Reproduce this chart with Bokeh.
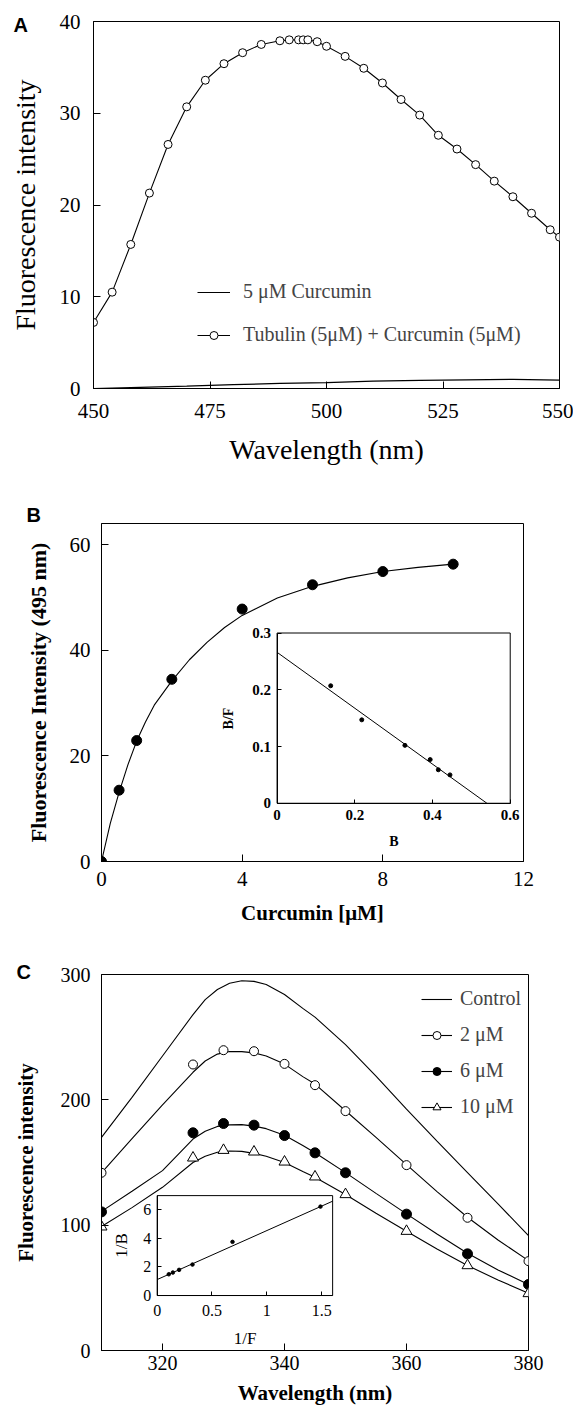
from bokeh.plotting import figure
from bokeh.models import Range1d, LinearAxis, FixedTicker, Legend, LegendItem
from bokeh.embed import file_html
from bokeh.resources import INLINE

SERIF = "Liberation Serif"
SANS = "Liberation Sans"

# ---------------- Panel A data ----------------
a_wl = [450, 454, 458, 462, 466, 470, 474, 478, 482, 486, 490, 492, 494, 495, 496,
        498, 500, 504, 508, 512, 516, 520, 524, 528, 532, 536, 540, 544, 548, 550]
a_tub = [7.2, 10.5, 15.7, 21.3, 26.6, 30.7, 33.6, 35.4, 36.6, 37.5, 37.9, 38.0, 38.0, 38.0, 38.0,
         37.8, 37.3, 36.2, 34.9, 33.3, 31.5, 29.8, 27.6, 26.1, 24.4, 22.6, 20.9, 19.1, 17.3, 16.5]
a_cur_wl = [450, 460, 470, 480, 490, 500, 510, 520, 530, 540, 550]
a_cur = [0.0, 0.12, 0.25, 0.42, 0.55, 0.65, 0.8, 0.88, 0.95, 1.0, 0.92]
a_xticks = [450, 475, 500, 525, 550]
a_yticks = [0, 10, 20, 30, 40]

# ---------------- Panel B data ----------------
b_conc = [0, 0.5, 1, 2, 4, 6, 8, 10]
b_int = [0, 13.5, 22.9, 34.5, 47.8, 52.4, 54.9, 56.3]
b_fit_x = [0, 0.25, 0.5, 0.75, 1, 1.25, 1.5, 2, 2.5, 3, 3.5, 4, 5, 6, 7, 8, 9, 10]
b_fit_y = [0, 7.2, 13.1, 18.3, 22.8, 26.4, 29.6, 34.2, 38.2, 41.5, 44.3, 46.6, 49.9, 52.1,
           53.7, 54.9, 55.7, 56.3]
b_xticks = [0, 4, 8, 12]
b_yticks = [0, 20, 40, 60]
# inset (Scatchard)
bi_B = [0.138, 0.218, 0.329, 0.394, 0.415, 0.445]
bi_BF = [0.207, 0.147, 0.102, 0.077, 0.059, 0.050]
bi_line_x = [0, 0.54]
bi_line_y = [0.266, 0.0]
bi_xticks = [0, 0.2, 0.4, 0.6]
bi_yticks = [0, 0.1, 0.2, 0.3]

# ---------------- Panel C data ----------------
c_wl = [310, 325, 330, 335, 340, 345, 350, 360, 370, 380]
c_2 = [141.8, 228.2, 239.6, 238.8, 228.7, 211.7, 191.0, 147.9, 105.9, 71.3]
c_6 = [110.6, 173.7, 181.1, 179.8, 171.5, 157.7, 141.8, 108.8, 77.1, 52.7]
c_10 = [98.7, 153.7, 159.8, 158.5, 150.5, 138.6, 124.5, 95.2, 67.8, 45.5]
c_fit_wl = [310, 315, 320, 325, 327, 329, 331, 333, 335, 337, 340, 343, 345, 350, 355, 360,
            365, 370, 375, 380]
c_ctrl_fit = [170, 202, 235, 268, 280, 288, 293, 295, 294.5, 292, 284, 273, 266, 244, 219,
              192.5, 167, 142, 117, 91.7]
c_2_fit = [141.8, 169, 196, 222, 231, 236.5, 238.5, 238.5, 237.5, 235, 228.5, 218.5, 212.6,
           191.3, 170, 148.3, 126.8, 106.3, 88.2, 71.7]
c_6_fit = [111, 127, 143.5, 168.7, 175, 178.8, 180, 180.2, 179, 177, 171.7, 163.5, 157.8,
           141.9, 125.4, 109, 93, 77.6, 64.3, 52.6]
c_10_fit = [99, 114, 130.2, 150, 155, 158.2, 159.2, 158.9, 157.3, 155, 150, 142.8, 138.2,
            124.4, 109.5, 95.1, 81, 67.8, 56.3, 45.7]
c_xticks = [320, 340, 360, 380]
c_yticks = [0, 100, 200, 300]
# inset (double reciprocal)
ci_x = [0.106, 0.143, 0.200, 0.322, 0.687, 1.489]
ci_y = [1.49, 1.61, 1.80, 2.17, 3.76, 6.23]
ci_line_x = [0, 1.6]
ci_line_y = [1.12, 6.61]
ci_xticks = [0, 0.5, 1, 1.5]
ci_yticks = [0, 2, 4, 6]


def make_fig(w, h, xr, yr, bl, br, bt, bb):
    p = figure(width=w, height=h, x_range=Range1d(*xr), y_range=Range1d(*yr),
               output_backend="svg", toolbar_location=None,
               min_border_left=bl, min_border_right=br,
               min_border_top=bt, min_border_bottom=bb)
    p.grid.visible = False
    p.outline_line_color = "black"
    p.outline_line_width = 1
    p.background_fill_color = "white"
    p.border_fill_color = "white"
    return p


def style_axis(ax, ticks, size, label_size, label_style, standoff, label_standoff,
               tick_in=7, tick_style="normal", overrides=None):
    ax.ticker = FixedTicker(ticks=ticks)
    ax.major_tick_in = tick_in
    ax.major_tick_out = 0
    ax.minor_tick_in = 0
    ax.minor_tick_out = 0
    ax.major_label_text_font = SERIF
    ax.major_label_text_font_size = f"{size}px"
    ax.major_label_text_font_style = tick_style
    ax.major_label_standoff = standoff
    ax.axis_label_text_font = SERIF
    ax.axis_label_text_font_size = f"{label_size}px"
    ax.axis_label_text_font_style = label_style
    ax.axis_label_standoff = label_standoff
    ax.axis_line_color = "black"
    ax.major_tick_line_color = "black"
    ax.major_label_text_color = "black"
    ax.axis_label_text_color = "black"
    if overrides:
        ax.major_label_overrides = overrides


def panel_letter(p, text, dx, standoff):
    t = p.title
    t.text = text
    t.align = "left"
    t.offset = dx
    t.standoff = standoff
    t.vertical_align = "bottom"
    t.text_font = SANS
    t.text_font_style = "bold"
    t.text_font_size = "20px"
    t.text_color = "black"


def add_inset(p, frame_px, box_px, xr, yr, name):
    fl, fr, ft, fb = frame_px
    il, ir, it, ib = box_px
    fx0 = (il - fl) / (fr - fl)
    fx1 = (ir - fl) / (fr - fl)
    fy0 = (fb - ib) / (fb - ft)
    fy1 = (fb - it) / (fb - ft)
    sx = (xr[1] - xr[0]) / (fx1 - fx0)
    sy = (yr[1] - yr[0]) / (fy1 - fy0)
    x0 = xr[0] - fx0 * sx
    y0 = yr[0] - fy0 * sy
    p.extra_x_ranges = {name + "x": Range1d(x0, x0 + sx)}
    p.extra_y_ranges = {name + "y": Range1d(y0, y0 + sy)}
    p.quad(left=xr[0], right=xr[1], bottom=yr[0], top=yr[1],
           x_range_name=name + "x", y_range_name=name + "y",
           fill_color="white", line_color="black", line_width=1)
    return name + "x", name + "y"


# ======================= Panel A =======================
pa = make_fig(573, 470, (450, 550), (0, 40), 93, 14, 21, 82)
pa.xaxis.axis_label = "Wavelength (nm)"
pa.yaxis.axis_label = "Fluorescence intensity"
style_axis(pa.xaxis[0], a_xticks, 21, 28, "normal", 15, 13)
style_axis(pa.yaxis[0], a_yticks, 21, 28, "normal", 13, 16)

ra_cur = pa.line(a_cur_wl, a_cur, line_color="black", line_width=1.2)
ra_tl = pa.line(a_wl, a_tub, line_color="black", line_width=1.1)
ra_tp = pa.scatter(a_wl, a_tub, marker="circle", size=8, fill_color="white",
                   line_color="black", line_width=1)
leg_a = Legend(items=[LegendItem(label="5 μM Curcumin", renderers=[ra_cur]),
                      LegendItem(label="Tubulin (5μM) + Curcumin (5μM)", renderers=[ra_tl, ra_tp])],
               location=(104, 42), padding=0, margin=0, spacing=20,
               glyph_width=33, glyph_height=20, label_height=20, label_standoff=13,
               label_text_font=SERIF, label_text_font_size="20px",
               border_line_color=None, background_fill_alpha=0)
pa.add_layout(leg_a)
panel_letter(pa, "A", -80, -28)

# ======================= Panel B =======================
pb = make_fig(573, 460, (0, 12), (0, 64), 101, 50, 53, 69)
pb.xaxis.axis_label = "Curcumin [μM]"
pb.yaxis.axis_label = "Fluorescence Intensity (495 nm)"
style_axis(pb.xaxis[0], b_xticks, 21, 21, "bold", 10, 12)
style_axis(pb.yaxis[0], b_yticks, 21, 22, "bold", 11, 16)

pb.line(b_fit_x, b_fit_y, line_color="black", line_width=1.1)
pb.scatter(b_conc, b_int, marker="circle", size=10, fill_color="black", line_color="black")

bxn, byn = add_inset(pb, (101, 523.3, 522.7, 861), (276.7, 510, 632.3, 802.7),
                     (0, 0.6), (0, 0.3), "bi")
pb.line(bi_line_x, bi_line_y, x_range_name=bxn, y_range_name=byn, line_color="black", line_width=1)
pb.scatter(bi_B, bi_BF, x_range_name=bxn, y_range_name=byn, marker="circle", size=4,
           fill_color="black", line_color="black")
bix = LinearAxis(x_range_name=bxn, y_range_name=byn, fixed_location=0, bounds=(0, 0.6),
                 axis_label="B")
style_axis(bix, bi_xticks, 15, 14, "bold", 7, 10, tick_in=4, tick_style="bold",
           overrides={0: "0"})
pb.add_layout(bix, "below")
biy = LinearAxis(x_range_name=bxn, y_range_name=byn, fixed_location=0, bounds=(0, 0.3),
                 axis_label="B/F")
style_axis(biy, bi_yticks, 15, 14, "bold", 6, 14, tick_in=4, tick_style="bold",
           overrides={0: "0"})
pb.add_layout(biy, "left")
panel_letter(pb, "B", -75, -5)

# ======================= Panel C =======================
pc = make_fig(573, 477, (310, 380), (0, 300), 101, 45, 44, 57)
pc.xaxis.axis_label = "Wavelength (nm)"
pc.yaxis.axis_label = "Fluorescence intensity"
style_axis(pc.xaxis[0], c_xticks, 20, 21, "bold", 5, 8)
style_axis(pc.yaxis[0], c_yticks, 20, 21, "bold", 11, 20)

rc_ctrl = pc.line(c_fit_wl, c_ctrl_fit, line_color="black", line_width=1.1)
rc_2l = pc.line(c_fit_wl, c_2_fit, line_color="black", line_width=1.1)
rc_6l = pc.line(c_fit_wl, c_6_fit, line_color="black", line_width=1.1)
rc_10l = pc.line(c_fit_wl, c_10_fit, line_color="black", line_width=1.1)
rc_2p = pc.scatter(c_wl, c_2, marker="circle", size=9, fill_color="white", line_color="black")
rc_6p = pc.scatter(c_wl, c_6, marker="circle", size=10, fill_color="black", line_color="black")
rc_10p = pc.scatter(c_wl, c_10, marker="triangle", size=11, fill_color="white", line_color="black")

leg_c = Legend(items=[LegendItem(label="Control", renderers=[rc_ctrl]),
                      LegendItem(label="2 μM", renderers=[rc_2l, rc_2p]),
                      LegendItem(label="6 μM", renderers=[rc_6l, rc_6p]),
                      LegendItem(label="10 μM", renderers=[rc_10l, rc_10p])],
               location=(320, 232), padding=0, margin=0, spacing=13,
               glyph_width=31, glyph_height=20, label_height=20, label_standoff=8,
               label_text_font=SERIF, label_text_font_size="20px",
               border_line_color=None, background_fill_alpha=0)
pc.add_layout(leg_c)

cxn, cyn = add_inset(pc, (101, 528.3, 973.7, 1350), (156.7, 332.3, 1195, 1295),
                     (0, 1.6), (0, 7), "ci")
pc.line(ci_line_x, ci_line_y, x_range_name=cxn, y_range_name=cyn, line_color="black", line_width=1)
pc.scatter(ci_x, ci_y, x_range_name=cxn, y_range_name=cyn, marker="circle", size=3.5,
           fill_color="black", line_color="black")
cix = LinearAxis(x_range_name=cxn, y_range_name=cyn, fixed_location=0, bounds=(0, 1.6),
                 axis_label="1/F")
style_axis(cix, ci_xticks, 16, 17, "normal", 9, 10, tick_in=4,
           overrides={0: "0", 0.5: "0.5", 1: "1", 1.5: "1.5"})
pc.add_layout(cix, "below")
ciy = LinearAxis(x_range_name=cxn, y_range_name=cyn, fixed_location=0, bounds=(0, 7),
                 axis_label="1/B")
style_axis(ciy, ci_yticks, 16, 17, "normal", 6, 10, tick_in=4)
pc.add_layout(ciy, "left")
panel_letter(pc, "C", -85, -17)

# three independent roots stacked on the page (keeps each panel's own frame geometry)
open("out.html", "w").write(file_html([pa, pb, pc], INLINE))
